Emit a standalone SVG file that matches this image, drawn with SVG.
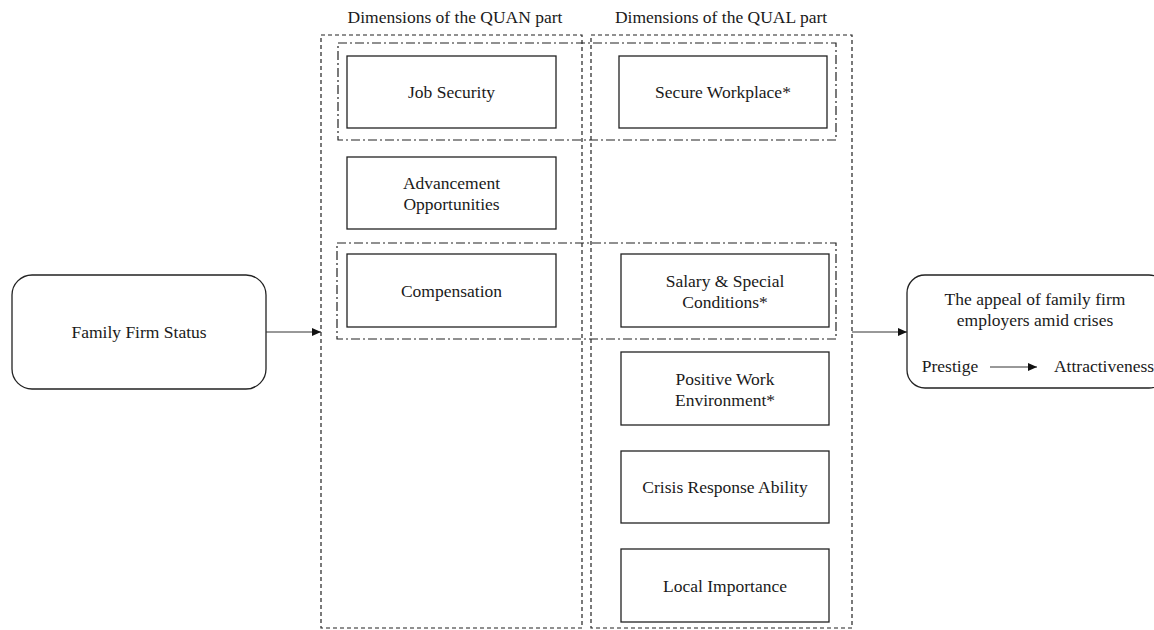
<svg xmlns="http://www.w3.org/2000/svg" width="1154" height="630" viewBox="0 0 1154 630">
<defs>
<style>
text{font-family:"Liberation Serif","Times New Roman",serif;font-size:17.5px;fill:#1a1a1a;text-anchor:middle}
.box{fill:#fff;stroke:#222;stroke-width:1.3}
.dash{fill:none;stroke:#222;stroke-width:1.2;stroke-dasharray:4,3}
.dd{fill:none;stroke:#222;stroke-width:1.2;stroke-dasharray:9,3,2,3}
.line{stroke:#333;stroke-width:1;fill:none}
</style>
<marker id="ah" markerWidth="10" markerHeight="8" refX="9" refY="4" orient="auto" markerUnits="userSpaceOnUse">
<path d="M0,0 L9,4 L0,8 z" fill="#111"/>
</marker>
</defs>
<rect width="1154" height="630" fill="#fff"/>

<g id="quan-group">
<rect class="dash" x="321" y="35" width="261" height="593"/>
<text x="455" y="23">Dimensions of the QUAN part</text>
</g>
<g id="qual-group">
<rect class="dash" x="591" y="35" width="261" height="593"/>
<text x="721" y="23">Dimensions of the QUAL part</text>
</g>
<g id="pair-security">
<rect class="dd" x="338" y="43" width="498" height="97"/>
</g>
<g id="pair-compensation">
<rect class="dd" x="337" y="243" width="499" height="96"/>
</g>

<g id="job-security"><rect class="box" x="347" y="56" width="209" height="72"/><text x="451.5" y="98">Job Security</text></g>
<g id="advancement"><rect class="box" x="347" y="157" width="209" height="72"/><text x="451.5" y="189">Advancement</text><text x="451.5" y="210">Opportunities</text></g>
<g id="compensation"><rect class="box" x="347" y="254" width="209" height="73"/><text x="451.5" y="297">Compensation</text></g>

<g id="secure-workplace"><rect class="box" x="619" y="56" width="208" height="72"/><text x="723" y="98">Secure Workplace*</text></g>
<g id="salary"><rect class="box" x="621" y="254" width="208" height="73"/><text x="725" y="287">Salary &amp; Special</text><text x="725" y="308">Conditions*</text></g>
<g id="positive-work"><rect class="box" x="621" y="352" width="208" height="73"/><text x="725" y="385">Positive Work</text><text x="725" y="406">Environment*</text></g>
<g id="crisis-response"><rect class="box" x="621" y="451" width="208" height="72"/><text x="725" y="493">Crisis Response Ability</text></g>
<g id="local-importance"><rect class="box" x="621" y="549" width="208" height="73"/><text x="725" y="592">Local Importance</text></g>

<g id="family-firm-status"><rect class="box" x="12" y="275" width="254" height="114" rx="20"/><text x="139" y="338">Family Firm Status</text></g>

<g id="appeal">
<rect class="box" x="907" y="275" width="260" height="113" rx="18"/>
<text x="1035" y="305">The appeal of family firm</text>
<text x="1035" y="326">employers amid crises</text>
<text x="950" y="372">Prestige</text>
<text x="1104" y="372">Attractiveness</text>
<line class="line" x1="990" y1="367" x2="1037" y2="367" marker-end="url(#ah)"/>
</g>

<g id="connectors">
<line class="line" x1="266" y1="332" x2="321" y2="332" marker-end="url(#ah)"/>
<line class="line" x1="852" y1="332" x2="907" y2="332" marker-end="url(#ah)"/>
</g>
</svg>
